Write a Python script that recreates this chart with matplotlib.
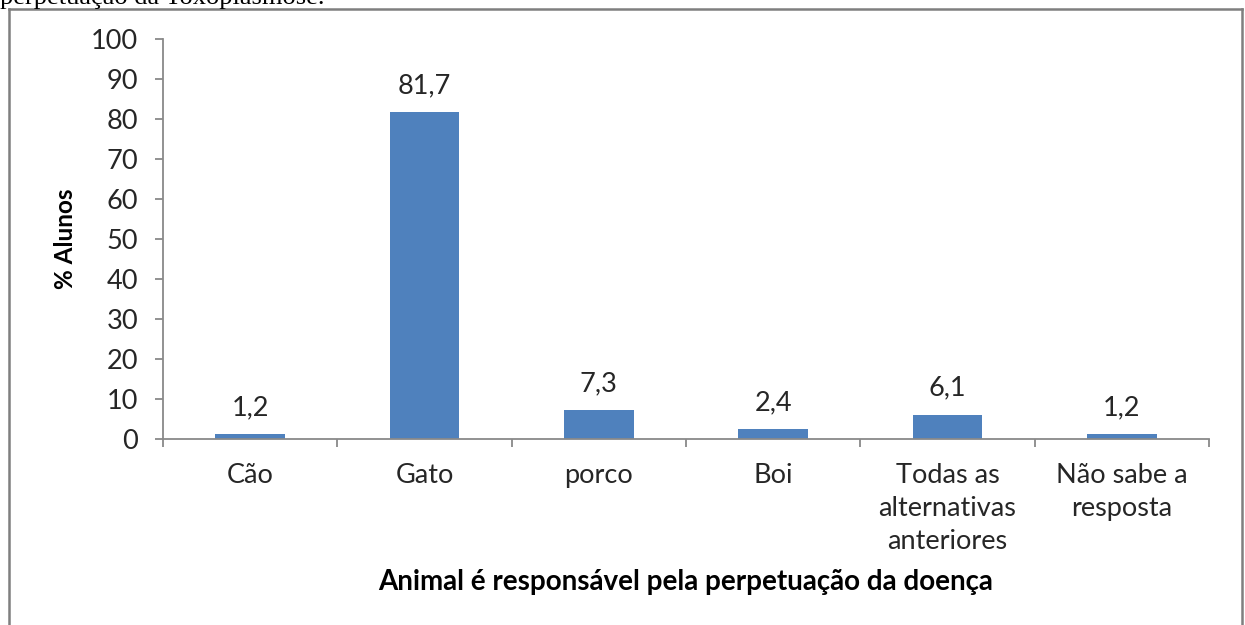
import matplotlib

matplotlib.use("Agg")

import matplotlib.pyplot as plt
from matplotlib.lines import Line2D

categories = ["Cão", "Gato", "porco", "Boi", "Todas as\nalternativas\nanteriores", "Não sabe a\nresposta"]
values = [1.2, 81.7, 7.3, 2.4, 6.1, 1.2]
value_labels = ["1,2", "81,7", "7,3", "2,4", "6,1", "1,2"]
y_ticks = list(range(0, 101, 10))

C_BAR = "#4f81bd"
C_AXIS = "#898989"
C_TEXT = "#262626"
FONT = ["Lato", "DejaVu Sans"]
FS = 19.5

fig = plt.figure(figsize=(12.45, 6.25), dpi=100)
fig.patch.set_facecolor("white")

# outer chart frame (left, top, right; bottom runs off the page)
frame_kw = dict(color="#7f7f7f", lw=1.8, transform=fig.transFigure)
fig.add_artist(Line2D([0.0075, 0.0075], [0.0, 0.9856], **frame_kw))
fig.add_artist(Line2D([0.0075, 0.9976], [0.9856, 0.9856], **frame_kw))
fig.add_artist(Line2D([0.9976, 0.9976], [0.0, 0.9856], **frame_kw))

# caption text from the page above, cut off by the crop
fig.text(0.0, 1 - 4 / 625, "perpetuação da Toxoplasmose.", family="Liberation Serif",
         fontsize=19, color="black", ha="left", va="baseline")

ax = fig.add_axes([0.1309, 0.2976, 0.8402, 0.64])
x = list(range(len(categories)))
ax.bar(x, values, width=0.4, color=C_BAR, zorder=2)
ax.set_xlim(-0.5, len(categories) - 0.5)
ax.set_ylim(0, 100)

for xi, v, lab in zip(x, values, value_labels):
    ax.annotate(lab, (xi, v), xytext=(0, 19), textcoords="offset points",
                ha="center", va="center", fontsize=FS, color=C_TEXT, family=FONT)

for side in ("top", "right"):
    ax.spines[side].set_visible(False)
for side in ("left", "bottom"):
    ax.spines[side].set_color(C_AXIS)
    ax.spines[side].set_linewidth(1.3)

ax.set_yticks(y_ticks)
ax.set_yticklabels([str(t) for t in y_ticks], family=FONT, fontsize=FS, color=C_TEXT)
ax.tick_params(axis="y", direction="out", length=6, width=1.3, color=C_AXIS, pad=12)

ax.set_xticks(x)
ax.set_xticklabels(categories, family=FONT, fontsize=FS, color=C_TEXT, linespacing=1.4)
ax.set_xticks([i - 0.5 for i in range(len(categories) + 1)], minor=True)
ax.tick_params(axis="x", which="major", length=0, pad=17)
ax.tick_params(axis="x", which="minor", direction="out", length=6, width=1.3, color=C_AXIS)

ax.set_ylabel("% Alunos", family=FONT, fontsize=17.5, fontweight="bold", color="black", labelpad=10)
fig.text(0.551, 1 - 582 / 625, "Animal é responsável pela perpetuação da doença",
         family=FONT, fontsize=20, fontweight="bold", color="black", ha="center", va="center")

fig.savefig("out.png", dpi=100, facecolor="white")
